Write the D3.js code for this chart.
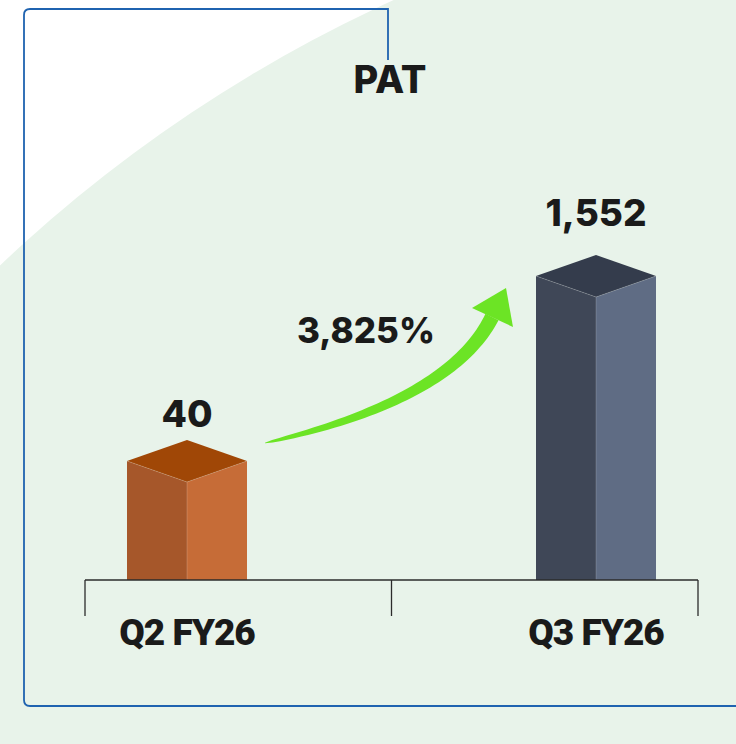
<!DOCTYPE html>
<html>
<head>
<meta charset="utf-8">
<script src="https://cdn.jsdelivr.net/npm/d3@7"></script>
<style>
  html, body { margin: 0; padding: 0; background: #ffffff; }
  svg { display: block; }
</style>
</head>
<body>
<svg id="chart" width="736" height="744"></svg>
<script>
// ---- data ----
const chartTitle = "PAT";
const categories = ["Q2 FY26", "Q3 FY26"];
const patValues = [40, 1552];
const valueLabels = ["40", "1,552"];
const growthLabel = "3,825%";

// ---- styles ----
const leftFaceColors = ["#a6572a", "#3f4757"];
const rightFaceColors = ["#c66c37", "#5f6c84"];
const topFaceColors = ["#a04706", "#343c4c"];

const W = 736, H = 744;
const svg = d3.select("#chart");

// background
svg.append("rect").attr("width", W).attr("height", H).attr("fill", "#ffffff");
svg.append("circle").attr("cx", 992).attr("cy", 1312).attr("r", 1442).attr("fill", "#e8f3ea");

// frame
svg.append("path")
  .attr("d", "M388,60 V9 H30 Q24,9 24,15 V700 Q24,706 30,706 H740")
  .attr("fill", "none").attr("stroke", "#1f63b0").attr("stroke-width", 1.8);

const boldFont = "Inter, 'DejaVu Sans', sans-serif";

// title
svg.append("text").attr("x", 390).attr("y", 93)
  .attr("text-anchor", "middle")
  .style("font-family", boldFont)
  .style("font-weight", 800).style("font-size", "38px").attr("fill", "#1a1a1a")
  .text(chartTitle);

// scales
const xBand = d3.scaleBand().domain(categories).range([85, 698]);
const xBar = d3.scalePoint().domain(categories).range([187, 596]);
const y = d3.scaleLinear().domain([-761, 1552]).range([580, 297]);
const yLabel = d3.scaleLinear().domain([-761, 1552]).range([533, 226]);

const baseY = y(-761);
const halfW = 60, depth = 21;

const data = categories.map((c, i) => ({ c, v: patValues[i], label: valueLabels[i], i }));

const bars = svg.append("g").selectAll("g").data(data).join("g");
bars.append("polygon")
  .attr("points", d => {
    const cx = xBar(d.c), yf = y(d.v);
    return [[cx - halfW, yf - depth], [cx, yf], [cx, baseY], [cx - halfW, baseY]].join(" ");
  })
  .attr("fill", d => leftFaceColors[d.i]);
bars.append("polygon")
  .attr("points", d => {
    const cx = xBar(d.c), yf = y(d.v);
    return [[cx, yf], [cx + halfW, yf - depth], [cx + halfW, baseY], [cx, baseY]].join(" ");
  })
  .attr("fill", d => rightFaceColors[d.i]);
bars.append("polygon")
  .attr("points", d => {
    const cx = xBar(d.c), yf = y(d.v);
    return [[cx - halfW, yf - depth], [cx, yf - 2 * depth], [cx + halfW, yf - depth], [cx, yf]].join(" ");
  })
  .attr("fill", d => topFaceColors[d.i]);
// subtle light edges
bars.append("path")
  .attr("d", d => {
    const cx = xBar(d.c), yf = y(d.v);
    return `M${cx - halfW},${yf - depth} L${cx},${yf} L${cx + halfW},${yf - depth} M${cx},${yf} V${baseY}`;
  })
  .attr("fill", "none").attr("stroke", "#ffffff").attr("stroke-opacity", 0.22).attr("stroke-width", 0.8);

// value labels
bars.append("text")
  .attr("x", d => xBar(d.c)).attr("y", d => yLabel(d.v))
  .attr("text-anchor", "middle")
  .style("font-family", boldFont)
  .style("font-weight", 800).style("font-size", "37px").attr("fill", "#1a1a1a")
  .text(d => d.label);

// axis: baseline and ticks at band edges
const axis = svg.append("g");
axis.append("line")
  .attr("x1", xBand.range()[0]).attr("x2", xBand.range()[1])
  .attr("y1", baseY).attr("y2", baseY)
  .attr("stroke", "#2b2b2b").attr("stroke-width", 1.6);
const tickXs = categories.map(c => xBand(c)).concat([xBand.range()[1]]);
axis.selectAll(".tick").data(tickXs).join("line")
  .attr("x1", d => d).attr("x2", d => d)
  .attr("y1", baseY).attr("y2", baseY + 36)
  .attr("stroke", "#2b2b2b").attr("stroke-width", 1.3);
axis.selectAll(".cat").data(categories).join("text")
  .attr("x", d => xBar(d)).attr("y", 645)
  .attr("text-anchor", "middle")
  .style("font-family", "Roboto, 'Liberation Sans', sans-serif")
  .style("font-weight", 900).style("font-size", "37px")
  .style("letter-spacing", "-1px").attr("fill", "#1a1a1a")
  .text(d => d);

// growth arrow
const P0 = [265, 443], P1 = [450, 401], P2 = [492, 317];
function bez(t) {
  const a = (1 - t) * (1 - t), b = 2 * (1 - t) * t, c = t * t;
  return [a * P0[0] + b * P1[0] + c * P2[0], a * P0[1] + b * P1[1] + c * P2[1]];
}
function tan(t) {
  const dx = 2 * (1 - t) * (P1[0] - P0[0]) + 2 * t * (P2[0] - P1[0]);
  const dy = 2 * (1 - t) * (P1[1] - P0[1]) + 2 * t * (P2[1] - P1[1]);
  const L = Math.hypot(dx, dy);
  return [dx / L, dy / L];
}
const upper = [], lower = [];
d3.range(0, 1.0001, 0.02).forEach(t => {
  const p = bez(t), tg = tan(t), n = [tg[1], -tg[0]];
  const w = (0.6 + 14 * Math.sqrt(t)) / 2;
  upper.push([p[0] - n[0] * w, p[1] - n[1] * w]);
  lower.push([p[0] + n[0] * w, p[1] + n[1] * w]);
});
const shaftPts = upper.concat(lower.reverse());
svg.append("path")
  .attr("d", d3.line()(shaftPts) + "Z")
  .attr("fill", "#6ce425");
svg.append("polygon")
  .attr("points", [[506, 288], [472, 308], [513, 327]].join(" "))
  .attr("fill", "#6ce425");

svg.append("text").attr("x", 366).attr("y", 343)
  .attr("text-anchor", "middle")
  .style("font-family", boldFont)
  .style("font-weight", 800).style("font-size", "35px").attr("fill", "#1a1a1a")
  .text(growthLabel);
</script>
</body>
</html>
